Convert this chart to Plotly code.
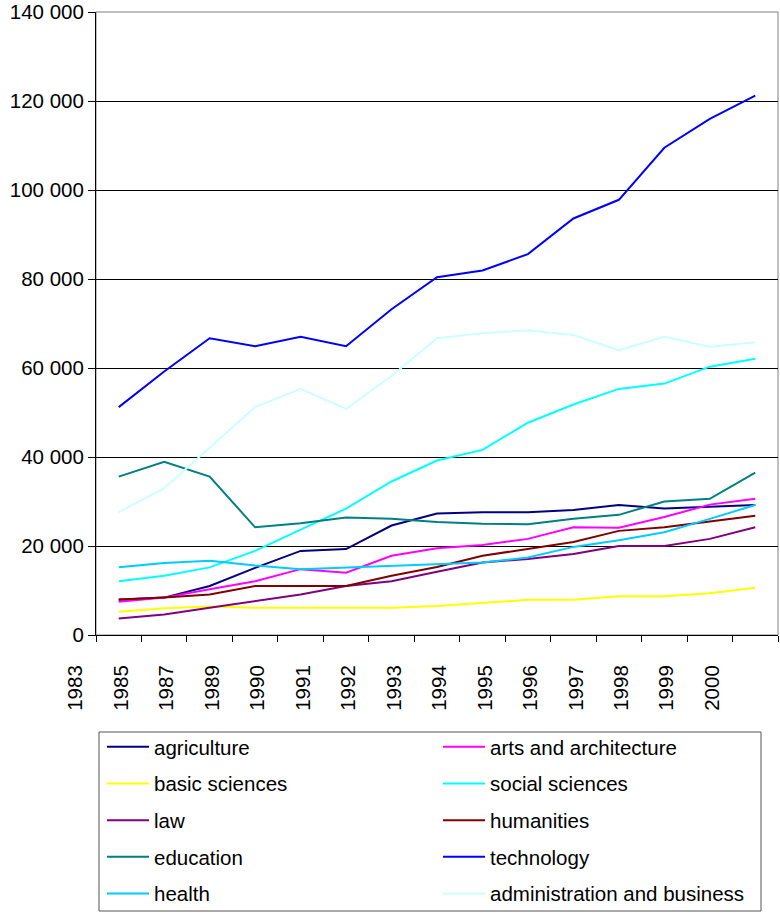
import plotly.graph_objects as go

years = ["1983", "1985", "1987", "1989", "1990", "1991", "1992", "1993",
         "1994", "1995", "1996", "1997", "1998", "1999", "2000"]

agriculture = [7900, 8400, 11000, 15100, 18900, 19300, 24600, 27300, 27600, 27600, 28100, 29200, 28400, 28800, 29200]
arts_architecture = [7500, 8400, 10300, 12100, 14800, 14000, 17800, 19500, 20200, 21600, 24200, 24100, 26500, 29300, 30600]
basic_sciences = [5200, 6000, 6400, 6100, 6100, 6100, 6100, 6500, 7200, 7900, 7900, 8700, 8700, 9400, 10600]
social_sciences = [12100, 13300, 15200, 18900, 23700, 28400, 34500, 39200, 41600, 47700, 51800, 55300, 56500, 60300, 62100]
law = [3700, 4600, 6100, 7600, 9100, 11000, 12100, 14200, 16300, 17100, 18200, 20000, 20000, 21600, 24200]
humanities = [8000, 8400, 9100, 11000, 11000, 11000, 13300, 15300, 17800, 19300, 20900, 23400, 24200, 25500, 26800]
education = [35600, 38900, 35600, 24200, 25100, 26400, 26100, 25400, 25000, 24900, 26100, 27000, 30000, 30600, 36500]
technology = [51200, 59200, 66700, 64900, 67000, 64900, 73200, 80400, 81900, 85600, 93600, 97800, 109500, 116000, 121200]
health = [15200, 16200, 16700, 15600, 14800, 15200, 15600, 15900, 16300, 17400, 19800, 21300, 23100, 26100, 29200]
administration_business = [27600, 33000, 42100, 51200, 55300, 50800, 58200, 66700, 67800, 68500, 67400, 64000, 67000, 64800, 65800]

series = [
    ("agriculture", agriculture, "#000080", "legend"),
    ("arts and architecture", arts_architecture, "#FF00FF", "legend2"),
    ("basic sciences", basic_sciences, "#FFFF00", "legend"),
    ("social sciences", social_sciences, "#00FFFF", "legend2"),
    ("law", law, "#800080", "legend"),
    ("humanities", humanities, "#800000", "legend2"),
    ("education", education, "#008080", "legend"),
    ("technology", technology, "#0000FF", "legend2"),
    ("health", health, "#00CCFF", "legend"),
    ("administration and business", administration_business, "#CCFFFF", "legend2"),
]

FONT = "Liberation Sans, Arial, sans-serif"
FS = 20.5
x_pos = list(range(len(years)))

fig = go.Figure()
for name, vals, color, lg in series:
    fig.add_trace(go.Scatter(
        x=x_pos, y=vals, mode="lines", name=name,
        line=dict(color=color, width=2),
        legend=lg, legendgroup=name,
    ))

W, H = 780, 913
ml, mr, mt, mb = 96, 2, 12, 278
pw, ph = W - ml - mr, H - mt - mb

def px_x(p):
    return (p - ml) / pw

def px_y(p):
    return (H - mb - p) / ph

fig.update_layout(
    width=W, height=H,
    margin=dict(l=ml, r=mr, t=mt, b=mb, pad=0, autoexpand=False),
    paper_bgcolor="white", plot_bgcolor="white",
    font=dict(family=FONT, size=FS, color="black"),
    separators=", ",
    xaxis=dict(
        range=[-0.5, len(years) - 0.5],
        tickmode="array", tickvals=x_pos, ticktext=years,
        tickangle=-90, ticks="outside", ticklen=0,
        ticklabelshift=-43, ticklabelstandoff=21,
        minor=dict(tick0=-0.5, dtick=1, ticks="outside", ticklen=6,
                   tickcolor="black", showgrid=False),
        showline=True, linecolor="black", linewidth=1,
        showgrid=False, zeroline=False, automargin=False,
        tickfont=dict(family=FONT, size=FS, color="black"),
    ),
    yaxis=dict(
        range=[0, 140000], dtick=20000, tickformat=",d",
        ticks="outside", ticklen=7, tickcolor="black",
        showline=True, linecolor="black", linewidth=1,
        showgrid=True, gridcolor="black", gridwidth=1,
        zeroline=False, automargin=False,
        tickfont=dict(family=FONT, size=FS, color="black"),
    ),
    legend=dict(
        orientation="v", x=px_x(102), y=px_y(727), xanchor="left", yanchor="top",
        bgcolor="rgba(0,0,0,0)", borderwidth=0, tracegroupgap=7,
        font=dict(family=FONT, size=FS, color="black"), itemwidth=42,
    ),
    legend2=dict(
        orientation="v", x=px_x(438), y=px_y(727), xanchor="left", yanchor="top",
        bgcolor="rgba(0,0,0,0)", borderwidth=0, tracegroupgap=7,
        font=dict(family=FONT, size=FS, color="black"), itemwidth=42,
    ),
    shapes=[
        dict(type="rect", xref="paper", yref="paper", x0=0, x1=1, y0=0, y1=1,
             line=dict(color="#808080", width=1), layer="below"),
        dict(type="rect", xref="paper", yref="paper",
             x0=px_x(99), x1=px_x(761), y0=px_y(911), y1=px_y(732),
             line=dict(color="#555555", width=1), fillcolor="rgba(0,0,0,0)"),
    ],
    showlegend=True,
)

fig.write_html("out.html")
